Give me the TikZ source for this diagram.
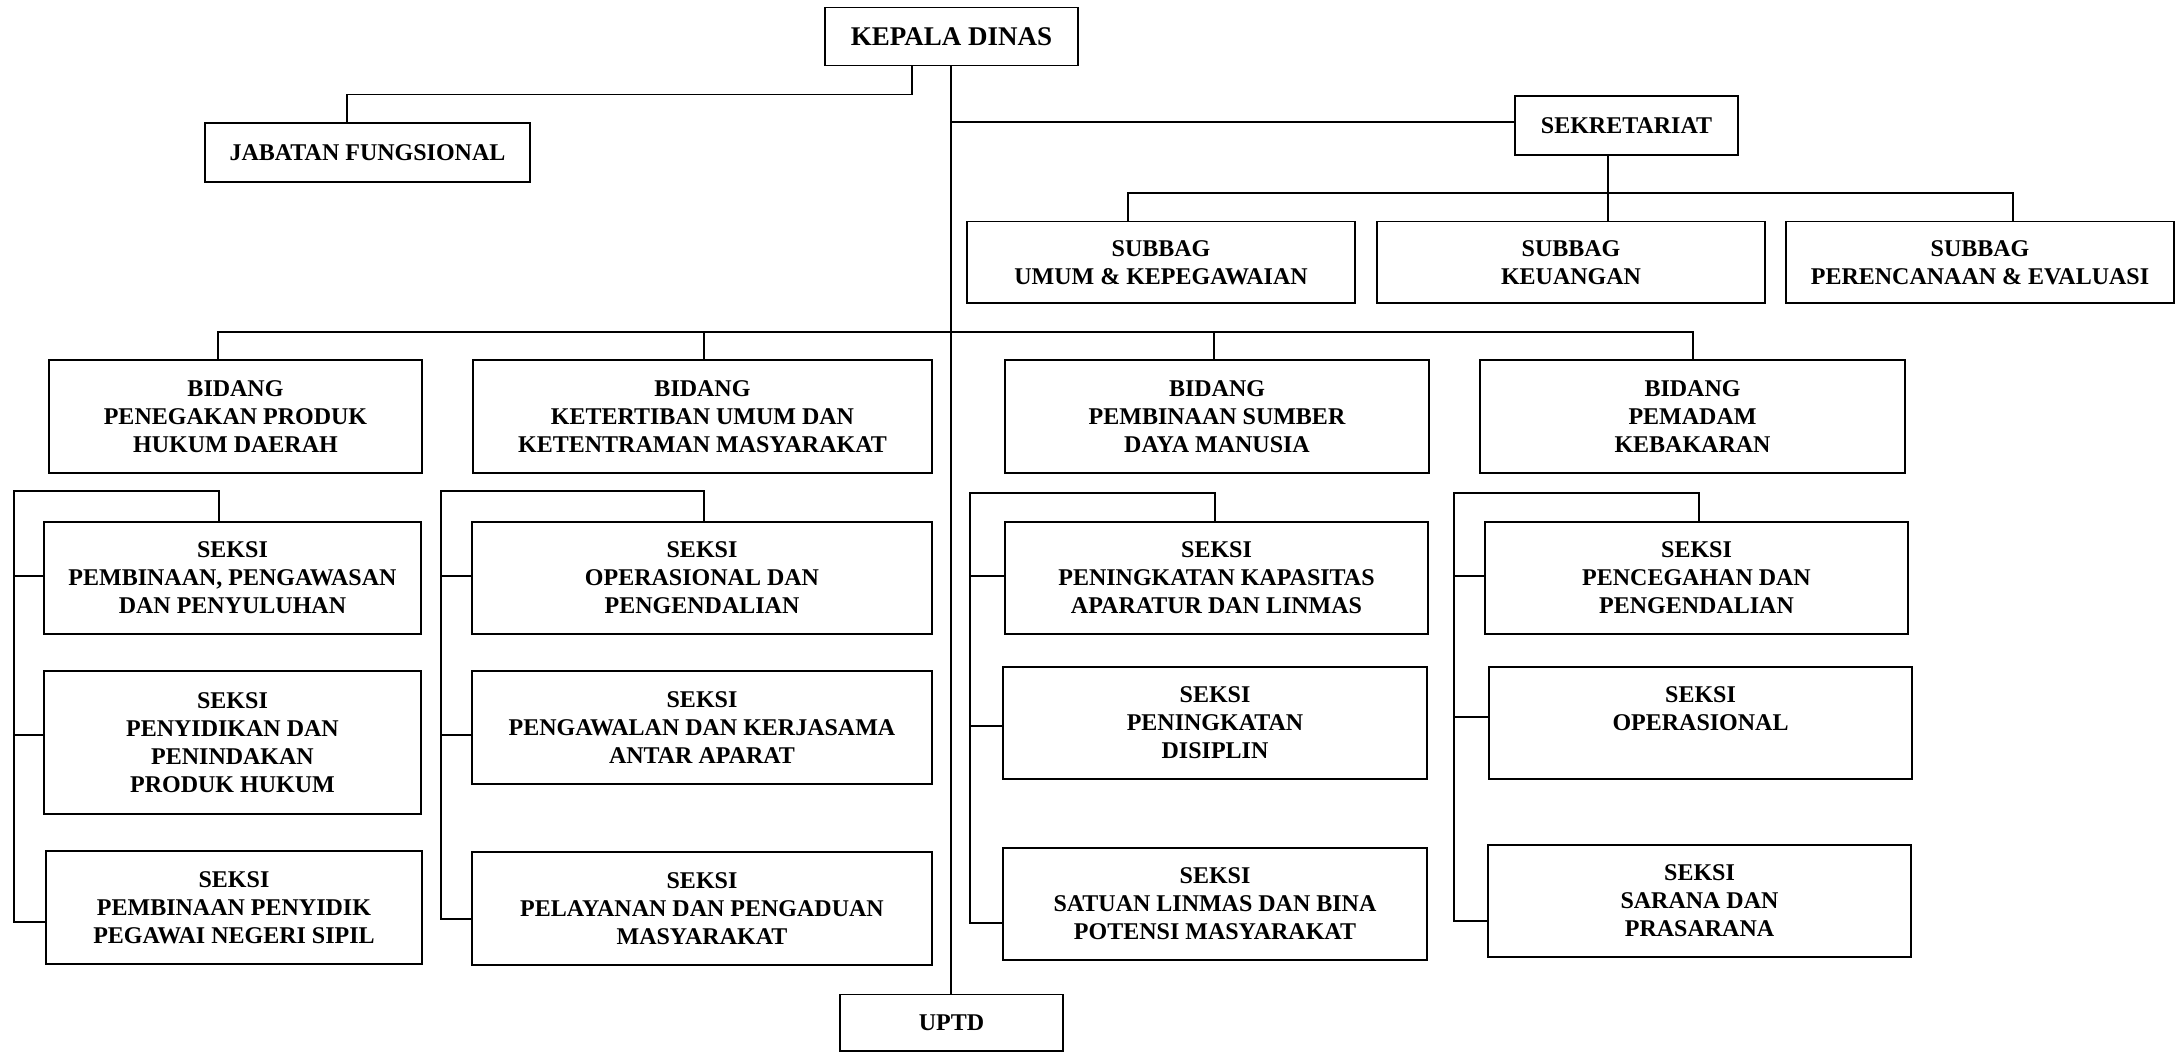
\documentclass[tikz,border=0pt]{standalone}
\usepackage{fontspec}
\setmainfont{Liberation Serif}
\begin{document}
\begin{tikzpicture}[x=1pt,y=-1pt,
  box/.style={draw=black,line width=1.8pt,inner sep=0pt,align=center,
    font=\fontsize{24}{28}\selectfont\bfseries},
  conn/.style={draw=black,line width=1.8pt}]
\useasboundingbox[fill=white] (0,0) rectangle (2179,1052);
% top level
\node[box,minimum width=253pt,minimum height=58pt,font=\fontsize{27}{30}\selectfont\bfseries] (KD) at (951.5,36.5) {KEPALA DINAS};
\node[box,minimum width=325pt,minimum height=59pt] (JF) at (367.5,152.5) {JABATAN FUNGSIONAL};
\node[box,minimum width=223pt,minimum height=59pt] (SK) at (1626.5,125.5) {SEKRETARIAT};
\node[box,minimum width=388pt,minimum height=81.5pt] (SB1) at (1161,262.25) {SUBBAG\\UMUM \& KEPEGAWAIAN};
\node[box,minimum width=388pt,minimum height=81.5pt] (SB2) at (1571,262.25) {SUBBAG\\KEUANGAN};
\node[box,minimum width=388pt,minimum height=81.5pt] (SB3) at (1980,262.25) {SUBBAG\\PERENCANAAN \& EVALUASI};
% bidang
\node[box,minimum width=373pt,minimum height=113pt] (B1) at (235.5,416.5) {BIDANG\\PENEGAKAN PRODUK\\HUKUM DAERAH};
\node[box,minimum width=459pt,minimum height=113pt] (B2) at (702.5,416.5) {BIDANG\\KETERTIBAN UMUM DAN\\KETENTRAMAN MASYARAKAT};
\node[box,minimum width=424pt,minimum height=113pt] (B3) at (1217,416.5) {BIDANG\\PEMBINAAN SUMBER\\DAYA MANUSIA};
\node[box,minimum width=425pt,minimum height=113pt] (B4) at (1692.5,416.5) {BIDANG\\PEMADAM\\KEBAKARAN};
% seksi group 1
\node[box,minimum width=377pt,minimum height=112pt] (S1a) at (232.5,578) {SEKSI\\PEMBINAAN, PENGAWASAN\\DAN PENYULUHAN};
\node[box,minimum width=377pt,minimum height=143pt] (S1b) at (232.5,742.5) {SEKSI\\PENYIDIKAN DAN\\PENINDAKAN\\PRODUK HUKUM};
\node[box,minimum width=376pt,minimum height=113pt] (S1c) at (234,907.5) {SEKSI\\PEMBINAAN PENYIDIK\\PEGAWAI NEGERI SIPIL};
% seksi group 2
\node[box,minimum width=460pt,minimum height=112pt] (S2a) at (702,578) {SEKSI\\OPERASIONAL DAN\\PENGENDALIAN};
\node[box,minimum width=460pt,minimum height=113pt] (S2b) at (702,727.5) {SEKSI\\PENGAWALAN DAN KERJASAMA\\ANTAR APARAT};
\node[box,minimum width=460pt,minimum height=113pt] (S2c) at (702,908.5) {SEKSI\\PELAYANAN DAN PENGADUAN\\MASYARAKAT};
% seksi group 3
\node[box,minimum width=423pt,minimum height=112pt] (S3a) at (1216.5,578) {SEKSI\\PENINGKATAN KAPASITAS\\APARATUR DAN LINMAS};
\node[box,minimum width=424pt,minimum height=112pt] (S3b) at (1215,723) {SEKSI\\PENINGKATAN\\DISIPLIN};
\node[box,minimum width=424pt,minimum height=112pt] (S3c) at (1215,904) {SEKSI\\SATUAN LINMAS DAN BINA\\POTENSI MASYARAKAT};
% seksi group 4
\node[box,minimum width=423pt,minimum height=112pt] (S4a) at (1696.5,578) {SEKSI\\PENCEGAHAN DAN\\PENGENDALIAN};
\node[box,minimum width=423pt,minimum height=112pt] (S4b) at (1700.5,723) {SEKSI\\OPERASIONAL\\\vphantom{A}};
\node[box,minimum width=423pt,minimum height=112pt] (S4c) at (1699.5,901) {SEKSI\\SARANA DAN\\PRASARANA};
% UPTD
\node[box,minimum width=223pt,minimum height=56.5pt] (UP) at (951.5,1022.75) {UPTD};
% connectors
\coordinate (mx) at (951,0);
\draw[conn] (KD.south -| mx) -- (UP.north -| mx);
\coordinate (jx) at (912,94.5);
\draw[conn] (KD.south -| jx) -- (jx) -| ([xshift=-20.5pt]JF.north);
\coordinate (sj) at (951,122);
\draw[conn] (sj) -- (sj -| SK.west);
% subbag bus
\coordinate (sbl) at (1128,193);
\coordinate (sbr) at (2013,193);
\coordinate (sbm) at (1608,193);
\draw[conn] (SK.south -| sbm) -- (SB2.north -| sbm);
\draw[conn] (SB1.north -| sbl) -- (sbl) -- (sbr) -- (SB3.north -| sbr);
% bidang bus
\coordinate (bl) at (218,332);
\coordinate (br) at (1693,332);
\draw[conn] (B1.north -| bl) -- (bl) -- (br) -- (B4.north -| br);
\draw[conn] (704,332) -- (B2.north -| 704,0);
\draw[conn] (1214,332) -- (B3.north -| 1214,0);
% group 1
\coordinate (g1l) at (14,491);
\coordinate (g1r) at (219,491);
\draw[conn] (S1a.north -| g1r) -- (g1r) -- (g1l) -- (14,922) -- (S1c.west |- 0,922);
\draw[conn] (14,576) -- (S1a.west |- 0,576);
\draw[conn] (14,735) -- (S1b.west |- 0,735);
% group 2
\coordinate (g2l) at (441,491);
\coordinate (g2r) at (704,491);
\draw[conn] (S2a.north -| g2r) -- (g2r) -- (g2l) -- (441,919) -- (S2c.west |- 0,919);
\draw[conn] (441,576) -- (S2a.west |- 0,576);
\draw[conn] (441,735) -- (S2b.west |- 0,735);
% group 3
\coordinate (g3l) at (970,493);
\coordinate (g3r) at (1215,493);
\draw[conn] (S3a.north -| g3r) -- (g3r) -- (g3l) -- (970,923) -- (S3c.west |- 0,923);
\draw[conn] (970,576) -- (S3a.west |- 0,576);
\draw[conn] (970,726) -- (S3b.west |- 0,726);
% group 4
\coordinate (g4l) at (1454,493);
\coordinate (g4r) at (1699,493);
\draw[conn] (S4a.north -| g4r) -- (g4r) -- (g4l) -- (1454,921) -- (S4c.west |- 0,921);
\draw[conn] (1454,576) -- (S4a.west |- 0,576);
\draw[conn] (1454,717) -- (S4b.west |- 0,717);
\end{tikzpicture}
\end{document}
